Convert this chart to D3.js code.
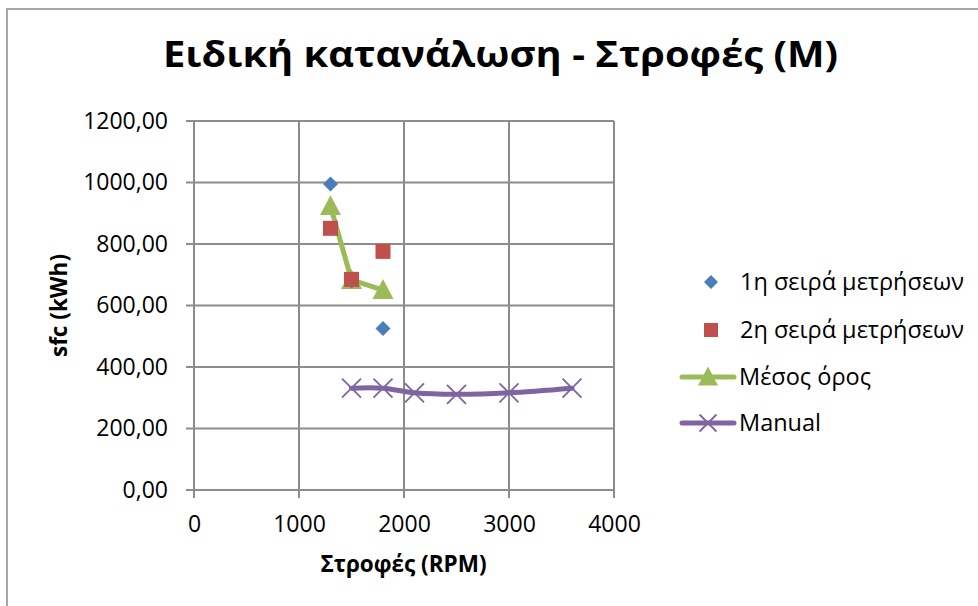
<!DOCTYPE html>
<html>
<head>
<meta charset="utf-8">
<script src="https://cdn.jsdelivr.net/npm/d3@7/dist/d3.min.js"></script>
<style>
  html, body { margin: 0; padding: 0; background: #fff; }
  svg { display: block; }
  text { font-family: "Open Sans", "Noto Sans", sans-serif; fill: #000; }
</style>
</head>
<body>
<svg id="chart" width="978" height="606"></svg>
<script>
// ---- Data ----
const title = "Ειδική κατανάλωση - Στροφές (M)";
const xTitle = "Στροφές (RPM)";
const yTitle = "sfc (kWh)";

const series1Name = "1η σειρά μετρήσεων";
const series1X = [1300, 1500, 1800];
const series1Y = [995, 680, 525];

const series2Name = "2η σειρά μετρήσεων";
const series2X = [1300, 1500, 1800];
const series2Y = [851, 685, 776];

const meanName = "Μέσος όρος";
const meanX = [1300, 1500, 1800];
const meanY = [923, 683, 650];

const manualName = "Manual";
const manualX = [1500, 1800, 2100, 2500, 3000, 3600];
const manualY = [331, 331, 316, 311, 316, 331];

const xTicks = [0, 1000, 2000, 3000, 4000];
const yTicks = [0, 200, 400, 600, 800, 1000, 1200];

// ---- Layout ----
const svg = d3.select("#chart");
const plot = { left: 194, right: 614, top: 121, bottom: 490 };
const gridColor = "#8c8c8c";

const x = d3.scaleLinear().domain([0, 4000]).range([plot.left, plot.right]);
const y = d3.scaleLinear().domain([0, 1200]).range([plot.bottom, plot.top]);

// Outer chart border
svg.append("rect")
  .attr("x", 7).attr("y", 9).attr("width", 1000).attr("height", 1000)
  .attr("fill", "none").attr("stroke", "#8a8a8a").attr("stroke-width", 1.5);

// Title
svg.append("text")
  .attr("x", 500.5).attr("y", 67)
  .attr("text-anchor", "middle")
  .attr("textLength", 675).attr("lengthAdjust", "spacingAndGlyphs")
  .style("font-size", "35px").style("font-weight", "bold")
  .text(title);

// Gridlines
const g = svg.append("g");
g.selectAll("line.gx").data(xTicks).enter().append("line")
  .attr("x1", d => x(d)).attr("x2", d => x(d))
  .attr("y1", plot.top).attr("y2", plot.bottom + 8)
  .attr("stroke", gridColor).attr("stroke-width", 2);
g.selectAll("line.gy").data(yTicks).enter().append("line")
  .attr("x1", plot.left - 8).attr("x2", plot.right)
  .attr("y1", d => y(d)).attr("y2", d => y(d))
  .attr("stroke", gridColor).attr("stroke-width", 2);

// Axes labels via d3 axes (ticks drawn by grid lines, hide domain)
const fmtY = d => d3.format(".2f")(d).replace(".", ",");
const yAxis = svg.append("g")
  .attr("transform", `translate(${plot.left},0)`)
  .call(d3.axisLeft(y).tickValues(yTicks).tickFormat(fmtY).tickSize(0).tickPadding(26));
yAxis.select(".domain").remove();
yAxis.selectAll("text").style("font-size", "23px").style("font-family", "'Open Sans', sans-serif").attr("fill", "#000");

const xAxis = svg.append("g")
  .attr("transform", `translate(0,${plot.bottom})`)
  .call(d3.axisBottom(x).tickValues(xTicks).tickFormat(d3.format("d")).tickSize(0).tickPadding(26));
xAxis.select(".domain").remove();
xAxis.selectAll("text").style("font-size", "23px").style("font-family", "'Open Sans', sans-serif").attr("fill", "#000");

// Axis titles
svg.append("text")
  .attr("x", 403.5).attr("y", 572)
  .attr("text-anchor", "middle")
  .style("font-size", "22.5px").style("font-weight", "bold")
  .text(xTitle);
svg.append("text")
  .attr("transform", `translate(67,${(plot.top + plot.bottom) / 2}) rotate(-90)`)
  .attr("text-anchor", "middle")
  .style("font-size", "22.5px").style("font-weight", "bold")
  .text(yTitle);

// Colors
const cBlue = "#4a7ebb", cRed = "#c0504d", cGreen = "#9bbb59", cPurple = "#8064a2";

const toPts = (xs, ys) => xs.map((v, i) => [v, ys[i]]);

// Manual line (smoothed)
const manualPts = toPts(manualX, manualY);
svg.append("path")
  .datum(manualPts)
  .attr("d", d3.line().x(d => x(d[0])).y(d => y(d[1])).curve(d3.curveCatmullRom.alpha(0.5)))
  .attr("fill", "none").attr("stroke", cPurple).attr("stroke-width", 5).attr("stroke-linecap", "round");
const crossPath = s => `M${-s},${-s}L${s},${s}M${-s},${s}L${s},${-s}`;
svg.selectAll("path.mx").data(manualPts).enter().append("path")
  .attr("transform", d => `translate(${x(d[0])},${y(d[1])})`)
  .attr("d", crossPath(9.5))
  .attr("stroke", cPurple).attr("stroke-width", 1.8).attr("fill", "none");

// Mean line
const meanPts = toPts(meanX, meanY);
svg.append("path")
  .datum(meanPts)
  .attr("d", d3.line().x(d => x(d[0])).y(d => y(d[1])))
  .attr("fill", "none").attr("stroke", cGreen).attr("stroke-width", 5).attr("stroke-linejoin", "round");
const triPath = s => `M0,${-s * 1.05}L${s},${s * 0.85}L${-s},${s * 0.85}Z`;
svg.selectAll("path.mt").data(meanPts).enter().append("path")
  .attr("transform", d => `translate(${x(d[0])},${y(d[1])})`)
  .attr("d", triPath(10.5))
  .attr("fill", cGreen);

// Series 1 diamonds
const diamond = s => `M0,${-s}L${s},0L0,${s}L${-s},0Z`;
svg.selectAll("path.s1").data(toPts(series1X, series1Y)).enter().append("path")
  .attr("transform", d => `translate(${x(d[0])},${y(d[1])})`)
  .attr("d", diamond(7.5))
  .attr("fill", cBlue);

// Series 2 squares
svg.selectAll("rect.s2").data(toPts(series2X, series2Y)).enter().append("rect")
  .attr("x", d => x(d[0]) - 7.5).attr("y", d => y(d[1]) - 7.5)
  .attr("width", 15).attr("height", 15)
  .attr("fill", cRed);

// Legend
const legend = svg.append("g");
const legY = [282, 330, 377, 423];
const lx = 711, tx = 740;
// row 1
legend.append("path").attr("transform", `translate(${lx},${legY[0]})`).attr("d", diamond(7)).attr("fill", cBlue);
// row 2
legend.append("rect").attr("x", lx - 7).attr("y", legY[1] - 7).attr("width", 14).attr("height", 14).attr("fill", cRed);
// row 3
legend.append("line").attr("x1", 682).attr("x2", 734).attr("y1", legY[2]).attr("y2", legY[2])
  .attr("stroke", cGreen).attr("stroke-width", 5).attr("stroke-linecap", "round");
legend.append("path").attr("transform", `translate(708,${legY[2]})`).attr("d", triPath(10)).attr("fill", cGreen);
// row 4
legend.append("line").attr("x1", 682).attr("x2", 734).attr("y1", legY[3]).attr("y2", legY[3])
  .attr("stroke", cPurple).attr("stroke-width", 5).attr("stroke-linecap", "round");
legend.append("path").attr("transform", `translate(708,${legY[3]})`).attr("d", crossPath(8.5))
  .attr("stroke", cPurple).attr("stroke-width", 1.8).attr("fill", "none");

const names = [series1Name, series2Name, meanName, manualName];
legend.selectAll("text").data(names).enter().append("text")
  .attr("x", (d, i) => i < 2 ? tx : 739)
  .attr("y", (d, i) => legY[i])
  .attr("dy", "0.35em")
  .style("font-size", "23.5px")
  .text(d => d);
</script>
</body>
</html>
